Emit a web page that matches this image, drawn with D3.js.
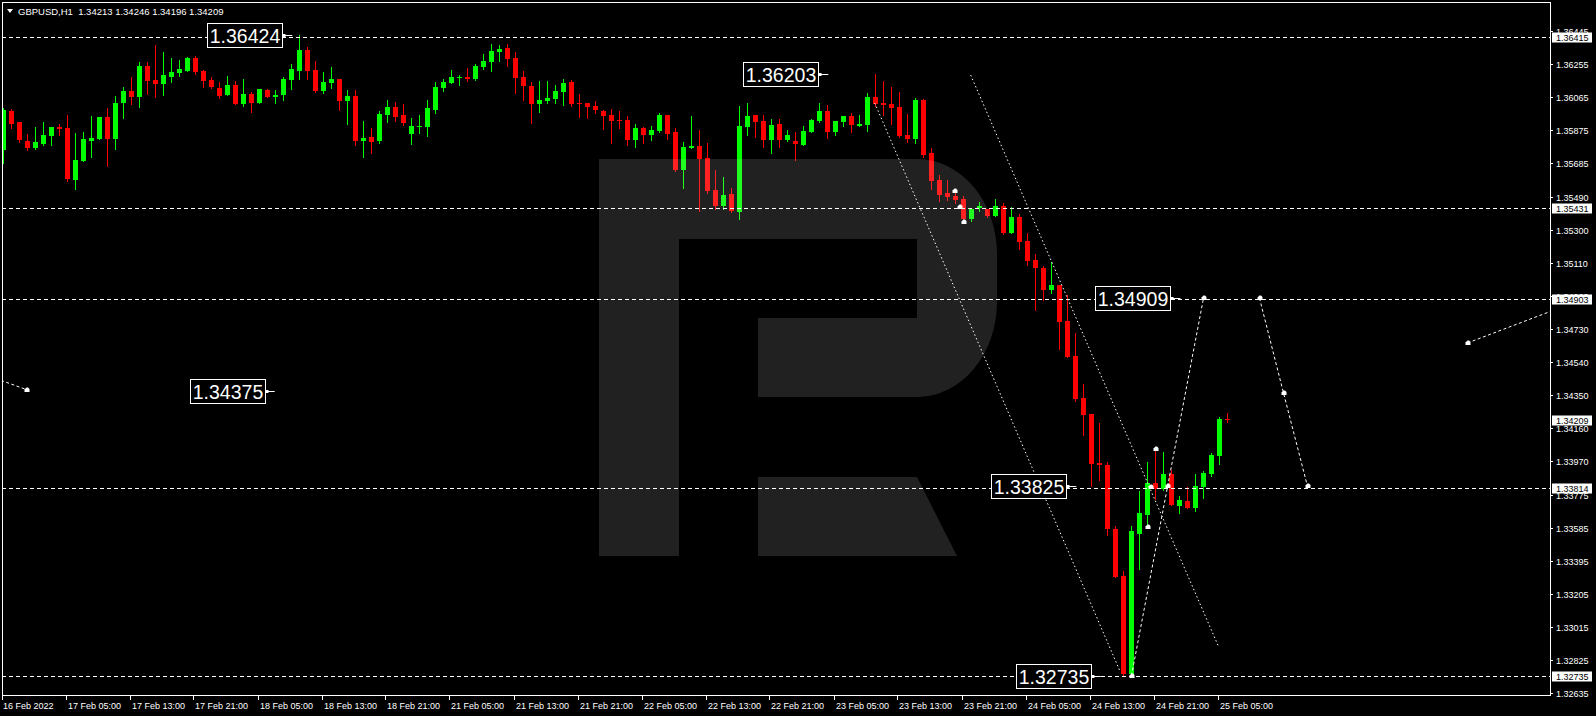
<!DOCTYPE html>
<html><head><meta charset="utf-8">
<script src="https://cdnjs.cloudflare.com/ajax/libs/d3/7.8.5/d3.min.js"></script>
<style>html,body{margin:0;padding:0;background:#000;overflow:hidden}svg{display:block}text{font-family:"Liberation Sans",Arial,sans-serif}</style>
</head><body>
<svg id="c" width="1596" height="716"></svg>
<script>
// ---------------- data ----------------
const symbolTitle = "GBPUSD,H1";
const lastQuote = [1.34213, 1.34246, 1.34196, 1.34209];
const opens = [1.35762,1.35987,1.35924,1.35814,1.35774,1.35797,1.35843,1.35895,1.35889,1.35590,
1.35699,1.35814,1.35826,1.35952,1.35826,1.36033,1.36102,1.36068,1.36246,1.36166,
1.36143,1.36183,1.36206,1.36217,1.36292,1.36217,1.36166,1.36120,1.36079,1.36137,
1.36027,1.36085,1.36033,1.36108,1.36068,1.36079,1.36166,1.36217,1.36338,1.36223,
1.36102,1.36148,1.36171,1.36045,1.36073,1.35814,1.35837,1.35814,1.35964,1.36010,
1.35964,1.35855,1.35895,1.35895,1.35993,1.36120,1.36148,1.36177,1.36183,1.36171,
1.36240,1.36269,1.36327,1.36350,1.36292,1.36183,1.36131,1.36027,1.36045,1.36056,
1.36097,1.36154,1.36033,1.36033,1.36016,1.35987,1.35964,1.35935,1.35935,1.35820,
1.35889,1.35849,1.35872,1.35964,1.35866,1.35647,1.35774,1.35785,1.35716,1.35532,
1.35440,1.35509,1.35405,1.35895,1.35964,1.35930,1.35820,1.35912,1.35820,1.35814,
1.35791,1.35866,1.35930,1.35987,1.35866,1.35924,1.35958,1.35901,1.35906,1.36068,
1.36033,1.36027,1.36010,1.35849,1.35826,1.36050,1.35745,1.35590,1.35515,1.35497,
1.35480,1.35365,1.35428,1.35423,1.35382,1.35440,1.35284,1.35377,1.35238,1.35129,
1.35083,1.34956,1.34985,1.34777,1.34576,1.34334,1.34242,1.33960,1.33948,1.33579,
1.33309,1.32745,1.33551,1.33660,1.33844,1.33810,1.33896,1.33712,1.33741,1.33700,
1.33821,1.33896,1.34000,1.34213];
const highs = [1.36004,1.35999,1.35924,1.35855,1.35895,1.35924,1.35895,1.35912,1.35964,1.35860,
1.35866,1.35958,1.35952,1.36004,1.36073,1.36125,1.36183,1.36269,1.36269,1.36367,
1.36327,1.36292,1.36281,1.36298,1.36304,1.36223,1.36183,1.36154,1.36189,1.36160,
1.36171,1.36097,1.36114,1.36114,1.36108,1.36183,1.36258,1.36424,1.36356,1.36275,
1.36212,1.36240,1.36171,1.36108,1.36108,1.35930,1.35889,1.35987,1.36050,1.36039,
1.36027,1.35947,1.35964,1.36050,1.36154,1.36171,1.36223,1.36194,1.36235,1.36258,
1.36315,1.36373,1.36367,1.36373,1.36327,1.36217,1.36154,1.36160,1.36160,1.36137,
1.36171,1.36166,1.36085,1.36033,1.36045,1.35993,1.35999,1.35987,1.35958,1.35912,
1.35895,1.35901,1.35976,1.35964,1.35889,1.35808,1.35958,1.35878,1.35803,1.35647,
1.35607,1.35544,1.36016,1.36033,1.35964,1.35964,1.35941,1.35941,1.35878,1.35866,
1.35901,1.35941,1.36033,1.36022,1.35930,1.35958,1.35976,1.35964,1.36091,1.36203,
1.36160,1.36125,1.36097,1.35970,1.36062,1.36056,1.35774,1.35618,1.35590,1.35526,
1.35497,1.35428,1.35463,1.35423,1.35480,1.35457,1.35434,1.35394,1.35284,1.35163,
1.35094,1.35117,1.34985,1.34927,1.34708,1.34415,1.34242,1.34190,1.33965,1.33597,
1.33337,1.33597,1.33798,1.33965,1.34046,1.34023,1.33919,1.33769,1.33821,1.33896,
1.33913,1.34017,1.34225,1.34246];
const lows = [1.35688,1.35889,1.35808,1.35762,1.35768,1.35791,1.35791,1.35849,1.35584,1.35538,
1.35699,1.35722,1.35826,1.35670,1.35768,1.35947,1.36027,1.36010,1.36085,1.36068,
1.36079,1.36154,1.36189,1.36217,1.36200,1.36125,1.36120,1.36062,1.36079,1.36027,
1.36016,1.35981,1.36033,1.36068,1.36033,1.36050,1.36114,1.36171,1.36171,1.36097,
1.36091,1.36120,1.35993,1.35912,1.35791,1.35722,1.35745,1.35803,1.35924,1.35930,
1.35906,1.35797,1.35860,1.35843,1.35976,1.36102,1.36148,1.36137,1.36160,1.36166,
1.36229,1.36217,1.36275,1.36246,1.36091,1.36050,1.35918,1.35981,1.36033,1.36033,
1.36022,1.36016,1.35952,1.35947,1.35976,1.35883,1.35803,1.35889,1.35791,1.35780,
1.35803,1.35820,1.35866,1.35826,1.35641,1.35544,1.35774,1.35411,1.35515,1.35423,
1.35423,1.35405,1.35365,1.35849,1.35837,1.35780,1.35745,1.35780,1.35814,1.35705,
1.35791,1.35866,1.35924,1.35832,1.35849,1.35901,1.35866,1.35901,1.35872,1.36016,
1.35964,1.35912,1.35837,1.35808,1.35803,1.35722,1.35538,1.35469,1.35474,1.35457,
1.35359,1.35353,1.35411,1.35377,1.35382,1.35279,1.35284,1.35192,1.35100,1.34841,
1.34898,1.34939,1.34616,1.34570,1.34317,1.34121,1.33827,1.33862,1.33545,1.33303,
1.32740,1.32735,1.33349,1.33591,1.33752,1.33804,1.33718,1.33672,1.33700,1.33683,
1.33758,1.33885,1.33954,1.34196];
const closes = [1.35993,1.35912,1.35820,1.35774,1.35808,1.35849,1.35895,1.35883,1.35595,1.35705,
1.35826,1.35832,1.35952,1.35826,1.36033,1.36102,1.36068,1.36246,1.36160,1.36143,
1.36194,1.36212,1.36229,1.36292,1.36212,1.36160,1.36125,1.36073,1.36137,1.36027,
1.36085,1.36033,1.36114,1.36068,1.36079,1.36171,1.36229,1.36338,1.36217,1.36102,
1.36154,1.36171,1.36045,1.36073,1.35814,1.35832,1.35808,1.35970,1.36010,1.35952,
1.35918,1.35901,1.35901,1.36004,1.36125,1.36154,1.36183,1.36183,1.36171,1.36246,
1.36275,1.36333,1.36344,1.36287,1.36177,1.36131,1.36027,1.36050,1.36062,1.36102,
1.36148,1.36027,1.36027,1.36010,1.35993,1.35958,1.35930,1.35930,1.35820,1.35889,
1.35849,1.35878,1.35964,1.35855,1.35647,1.35780,1.35785,1.35711,1.35526,1.35440,
1.35503,1.35411,1.35901,1.35958,1.35924,1.35820,1.35906,1.35820,1.35849,1.35797,
1.35872,1.35935,1.35987,1.35866,1.35930,1.35958,1.35906,1.35912,1.36068,1.36027,
1.36022,1.36004,1.35843,1.35826,1.36050,1.35734,1.35584,1.35503,1.35492,1.35474,
1.35365,1.35423,1.35440,1.35382,1.35440,1.35284,1.35377,1.35232,1.35123,1.35083,
1.34956,1.34985,1.34772,1.34570,1.34328,1.34236,1.33954,1.33948,1.33579,1.33303,
1.32745,1.33568,1.33672,1.33844,1.33810,1.33896,1.33718,1.33746,1.33700,1.33827,
1.33902,1.34006,1.34213,1.34209];

const timeLabels = ["16 Feb 2022","17 Feb 05:00","17 Feb 13:00","17 Feb 21:00","18 Feb 05:00","18 Feb 13:00",
"18 Feb 21:00","21 Feb 05:00","21 Feb 13:00","21 Feb 21:00","22 Feb 05:00","22 Feb 13:00","22 Feb 21:00",
"23 Feb 05:00","23 Feb 13:00","23 Feb 21:00","24 Feb 05:00","24 Feb 13:00","24 Feb 21:00","25 Feb 05:00"];
const timeLabelBars = [0,8,16,24,32,40,48,56,64,72,80,88,96,104,112,120,128,136,144,152];

const priceTicks = [1.36445,1.36255,1.36065,1.35875,1.35685,1.35490,1.35300,1.35110,1.34920,1.34730,
1.34540,1.34350,1.34160,1.33970,1.33775,1.33585,1.33395,1.33205,1.33015,1.32825,1.32635];

const levelPrices = [1.36415, 1.35431, 1.34903, 1.33814, 1.32735];
const currentPrice = 1.34209;

const noteValues = [1.36424, 1.36203, 1.34375, 1.34909, 1.33825, 1.32735];
const noteBars   = [36.1, 103.1, 33.9, 147.1, 134.1, 137.15];

// trend channel (bar index, price)
const channelLines = [
  [[108.9, 1.36033], [139.6, 1.32756]],
  [[120.9, 1.36194], [151.9, 1.32900]]
];
// forecast paths
const forecastLines = [
  [[141, 1.32735], [150, 1.34909]],
  [[157, 1.34909], [160, 1.34363], [163, 1.33825]],
  [[183, 1.34651], [200, 1.34949]],
  [[-10, 1.34598], [3, 1.34380]]
];
const arrowMarks = [[141,1.32735],[150,1.34909],[157,1.34909],[160,1.34363],[163,1.33825],[183,1.34651],[3,1.34380],
  [144,1.34040],[143,1.33591],[145.5,1.33827],[143.4,1.33820],[118.9,1.35526],[119.5,1.35434],[120,1.35348]];

// ---------------- drawing ----------------
const svg = d3.select("#c");
const PL = 2, PT = 2, PR = 1550, PB = 695;
const x = d3.scaleLinear().domain([0, 153]).range([3.5, 1227.5]);
const y = d3.scaleLinear().domain([1.32735, 1.36415]).range([675.6, 36.7]);
const WHITE = "#ffffff", GREEN = "#00ff00", RED = "#ff0000";

svg.append("rect").attr("width",1596).attr("height",716).attr("fill","#000");
svg.append("defs").append("clipPath").attr("id","plot")
  .append("rect").attr("x",PL+1).attr("y",PT+1).attr("width",PR-PL-1).attr("height",PB-PT-1);

const plot = svg.append("g").attr("clip-path","url(#plot)");

// candles
const candles = d3.range(opens.length).map(i => ({i, o:opens[i], h:highs[i], l:lows[i], c:closes[i]}));
const cg = plot.append("g").attr("shape-rendering","crispEdges");
candles.forEach(d => {
  const cx = x(d.i);
  const col = d.c >= d.o ? GREEN : RED;
  const yh = Math.round(y(d.h)), yl = Math.round(y(d.l));
  cg.append("rect").attr("x", cx-0.5).attr("y", yh).attr("width",1).attr("height", Math.max(1, yl-yh+1)).attr("fill", col);
  const yt = Math.round(y(Math.max(d.o,d.c))), yb = Math.round(y(Math.min(d.o,d.c)));
  cg.append("rect").attr("x", cx-2.5).attr("y", yt).attr("width",5).attr("height", Math.max(1, yb-yt)).attr("fill", col);
});

// watermark "R"
const wm = plot.append("g").attr("fill","#ffffff").attr("fill-opacity",0.13);
wm.append("path").attr("d","M599,159 H917 A80,95 0 0 1 997,254 V302 A80,95 0 0 1 917,397 H758 V318 H917 V239 H679 V556 H599 Z");
wm.append("path").attr("d","M758,477 H917 L957,556 H758 Z");

// level lines
plot.append("g").selectAll("line").data(levelPrices).join("line")
  .attr("x1",PL).attr("x2",PR).attr("y1",d=>Math.round(y(d))+0.5).attr("y2",d=>Math.round(y(d))+0.5)
  .attr("stroke",WHITE).attr("stroke-width",1).attr("stroke-dasharray","4,3");

// channel lines (dotted)
const lineGen = d3.line().x(d=>x(d[0])).y(d=>y(d[1]));
plot.append("g").selectAll("path").data(channelLines).join("path")
  .attr("d", lineGen).attr("fill","none").attr("stroke",WHITE).attr("stroke-width",1).attr("stroke-dasharray","1.5,2.5");
plot.append("g").selectAll("path").data(forecastLines).join("path")
  .attr("d", lineGen).attr("fill","none").attr("stroke",WHITE).attr("stroke-width",1).attr("stroke-dasharray","3,2.5");

// arrow marks
plot.append("g").selectAll("path").data(arrowMarks).join("path")
  .attr("transform", d=>`translate(${Math.round(x(d[0]))},${Math.round(y(d[1]))})`)
  .attr("d","M-2.5,2 V-0.5 L-0.5,-2.5 H1 L2.5,-1 V2 Z").attr("fill",WHITE);

// note labels
const notes = plot.append("g");
noteValues.forEach((v,k) => {
  const endX = x(noteBars[k]);
  const cy = Math.round(y(v)) + 0.5;
  const bw = 75, bh = 24;
  const bx = Math.round(endX - 10 - bw) + 0.5;
  notes.append("rect").attr("x",bx).attr("y",cy-12).attr("width",bw).attr("height",bh)
    .attr("fill","#000").attr("stroke",WHITE).attr("stroke-width",1);
  notes.append("text").attr("x",bx+bw/2).attr("y",cy+7).attr("text-anchor","middle")
    .attr("fill",WHITE).attr("font-size","19.5px").text(v.toFixed(5));
  notes.append("rect").attr("x",bx+bw).attr("y",cy-1.5).attr("width",3).attr("height",3).attr("fill",WHITE);
  notes.append("line").attr("x1",bx+bw).attr("x2",endX).attr("y1",cy).attr("y2",cy).attr("stroke",WHITE);
});

// frame
svg.append("rect").attr("x",PL+0.5).attr("y",PT+0.5).attr("width",PR-PL).attr("height",PB-PT)
  .attr("fill","none").attr("stroke",WHITE).attr("stroke-width",1).attr("shape-rendering","crispEdges");

// price axis
const pa = svg.append("g");
priceTicks.forEach(p => {
  const ty = Math.round(y(p)) + 0.5;
  pa.append("line").attr("x1",PR).attr("x2",PR+3).attr("y1",ty).attr("y2",ty).attr("stroke",WHITE);
  pa.append("text").attr("x",PR+6).attr("y",ty+3.3).attr("fill",WHITE).attr("font-size","9px").text(p.toFixed(5));
});
[...levelPrices, currentPrice].forEach(p => {
  const ty = Math.round(y(p)) + 0.5;
  pa.append("rect").attr("x",PR+2).attr("y",ty-5).attr("width",40).attr("height",10).attr("fill",WHITE);
  pa.append("text").attr("x",PR+6).attr("y",ty+3.3).attr("fill","#000").attr("font-size","9px").text(p.toFixed(5));
});

// time axis
const ta = svg.append("g");
timeLabels.forEach((t,k) => {
  const tx = Math.round(x(timeLabelBars[k])) - 1.5;
  ta.append("line").attr("x1",tx).attr("x2",tx).attr("y1",PB).attr("y2",PB+5).attr("stroke",WHITE);
  ta.append("text").attr("x",k === 0 ? 3 : tx+1.5).attr("y",PB+13.5).attr("fill",WHITE).attr("font-size","9px").text(t);
});

// header
svg.append("path").attr("d","M7,9 H13 L10,13 Z").attr("fill",WHITE);
svg.append("text").attr("x",18).attr("y",14.5).attr("fill",WHITE).attr("font-size","9.5px")
  .style("white-space","pre").text(symbolTitle + "  " + lastQuote.map(v=>v.toFixed(5)).join(" "));
</script>
</body></html>
